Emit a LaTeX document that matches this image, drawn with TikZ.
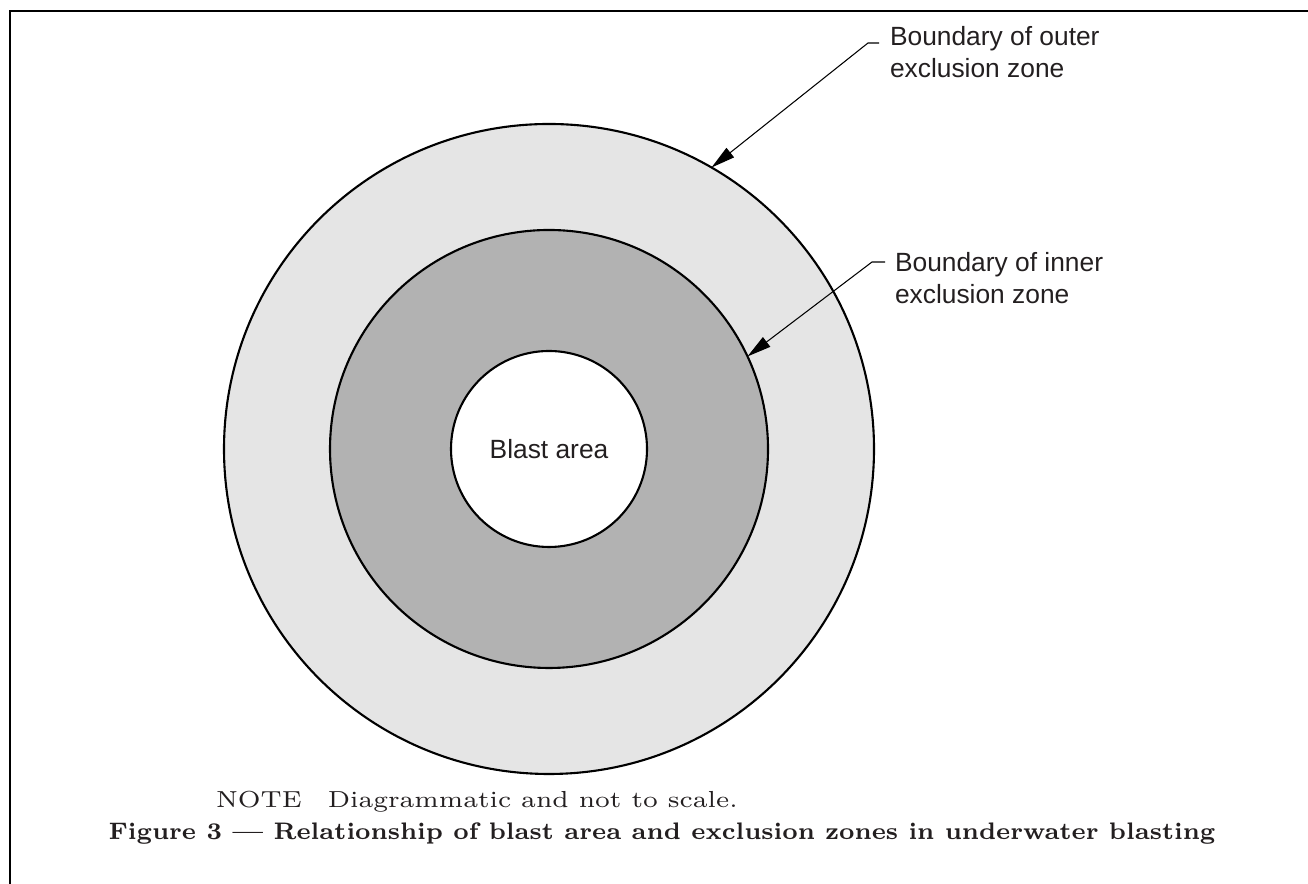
\documentclass[tikz,border=0pt]{standalone}
\usepackage{fontspec}
\usetikzlibrary{arrows.meta,positioning,calc}
\newfontfamily\lblfont{Liberation Sans}
\definecolor{outerzone}{gray}{0.9}
\definecolor{innerzone}{gray}{0.7}
\definecolor{inkgray}{HTML}{231F20}

\begin{document}
\begin{tikzpicture}[>={Triangle[length=2.4mm,width=1.2mm]}, font=\lblfont\fontsize{7.5}{9.1}\selectfont,
  every node/.style={inner sep=0pt,outer sep=0pt,text=inkgray},
  zone/.style={draw,circle,line width=0.6pt},
  lbl/.style={align=left,anchor=north west},
  pointer/.style={->,line width=0.3pt}]
  \useasboundingbox (0,0) rectangle (13.08,8.84);
  \draw[line width=0.6pt] (0.10,0) -- (0.10,8.73) -- (13.08,8.73);
  \node[zone,fill=outerzone,minimum size=6.5cm] (outer) at (5.49,4.35) {};
  \node[zone,fill=innerzone,minimum size=4.38cm] (inner) at (5.49,4.35) {};
  \node[zone,fill=white,minimum size=1.96cm] (blast) at (5.49,4.35) {Blast area};
  \node[lbl] (outerlbl) at (8.90,8.575) {Boundary of outer\\exclusion zone};
  \node[lbl] (innerlbl) at (8.95,6.32) {Boundary of inner\\exclusion zone};
  \coordinate (outerknee) at (8.68,8.41);
  \coordinate (innerknee) at (8.72,6.22);
  \draw[pointer] ([xshift=-1.1mm]outerlbl.west |- outerknee) -- (outerknee) -- (outer.60);
  \draw[pointer] ([xshift=-1mm]innerlbl.west |- innerknee) -- (innerknee) -- (inner.25);
  \node[anchor=base west,xscale=1.12,transform shape,font=\rmfamily\fontsize{6.6}{8}\selectfont] (note) at (2.16,0.76) {NOTE\quad Diagrammatic and not to scale.};
  \node[anchor=base,font=\rmfamily\bfseries\fontsize{6.8}{8}\selectfont] (caption) at (6.62,0.44) {Figure 3 --- Relationship of blast area and exclusion zones in underwater blasting};
\end{tikzpicture}
\end{document}
